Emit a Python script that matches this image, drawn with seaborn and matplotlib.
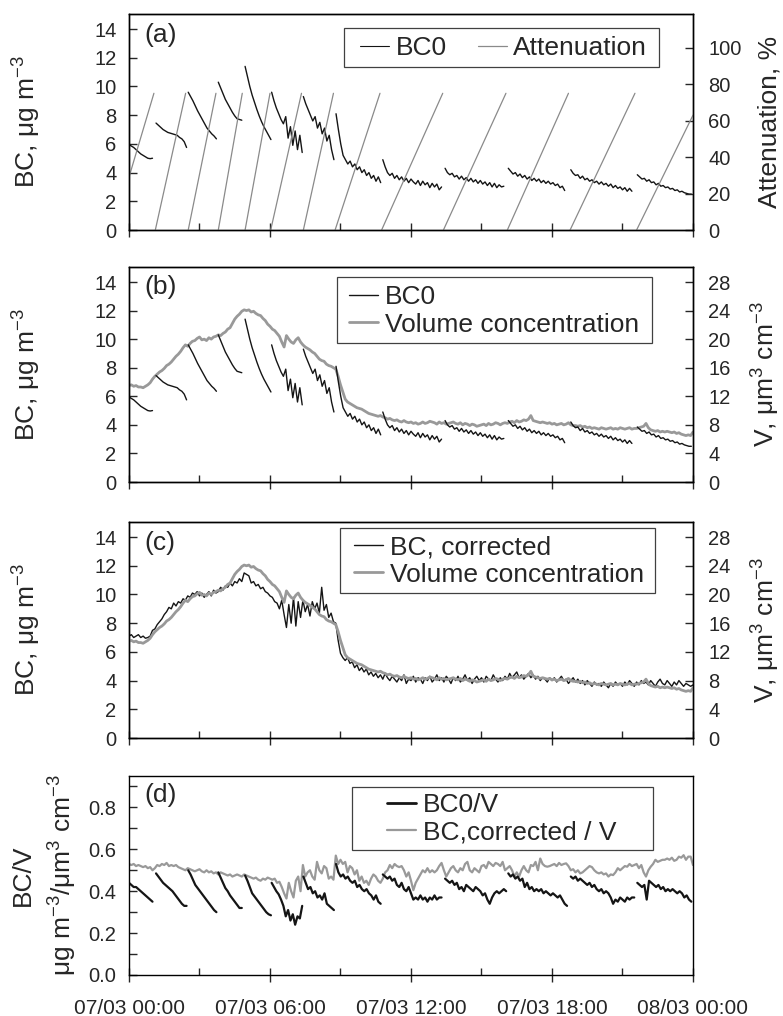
import numpy as np
import pandas as pd
import matplotlib
matplotlib.use("Agg")
import matplotlib.pyplot as plt
import seaborn as sns
from matplotlib.lines import Line2D
from matplotlib.patches import Rectangle
from matplotlib.ticker import MultipleLocator

# ---------------- data (hours after 07/03 00:00) ----------------
STEP = 0.1  # 6 min

# filter spots: start time of each BC0 segment
seg_start = [0.0, 1.15, 2.52, 3.80, 4.94, 6.07, 7.42, 8.81, 10.80, 13.45, 16.14, 18.80, 21.63]

bc0_segs = [
    [5.95, 5.85, 5.75, 5.6, 5.45, 5.3, 5.2, 5.1, 5.0, 4.97, 5.0],
    [7.45, 7.3, 7.15, 7.0, 6.9, 6.8, 6.75, 6.7, 6.65, 6.6, 6.45, 6.35, 6.15, 5.75],
    [9.6, 9.3, 9.0, 8.65, 8.3, 8.0, 7.7, 7.4, 7.1, 6.9, 6.7, 6.55, 6.35],
    [10.3, 9.9, 9.5, 9.1, 8.8, 8.5, 8.2, 7.95, 7.75, 7.7, 7.65],
    [11.4, 10.7, 10.0, 9.4, 8.9, 8.4, 7.95, 7.55, 7.2, 6.9, 6.6, 6.3],
    [9.6, 9.0, 8.5, 8.1, 7.7, 7.4, 7.9, 6.4, 7.2, 5.9, 6.9, 5.6, 6.6, 5.4],
    [9.3, 8.8, 8.4, 8.0, 7.6, 7.9, 7.1, 7.5, 6.7, 7.1, 6.2, 6.6, 5.6, 4.9],
    [8.1, 7.0, 6.0, 5.2, 4.9, 4.6, 4.8, 4.4, 4.6, 4.2, 4.4, 4.0, 4.2, 3.8, 4.0, 3.6, 3.8, 3.4, 3.7, 3.3],
    [4.9, 4.4, 4.0, 3.8, 3.95, 3.6, 3.8, 3.5, 3.7, 3.4, 3.6, 3.3, 3.55, 3.35, 3.2, 3.45, 3.1, 3.4,
     3.15, 3.3, 2.95, 3.25, 3.0, 3.2, 2.8, 3.0],
    [4.3, 4.0, 3.85, 3.95, 3.7, 3.8, 3.55, 3.75, 3.5, 3.65, 3.4, 3.6, 3.35, 3.5, 3.25, 3.45, 3.2, 3.35,
     3.1, 3.3, 3.0, 3.25, 2.95, 3.15, 3.0, 3.05],
    [4.3, 4.1, 3.9, 4.0, 3.75, 3.9, 3.65, 3.8, 3.55, 3.7, 3.45, 3.6, 3.4, 3.55, 3.3, 3.45, 3.25, 3.4,
     3.2, 3.3, 3.1, 3.2, 2.95, 3.05, 2.75],
    [4.2, 3.95, 3.8, 3.85, 3.6, 3.75, 3.5, 3.6, 3.4, 3.5, 3.3, 3.4, 3.2, 3.35, 3.15, 3.25, 3.05, 3.2,
     2.95, 3.1, 2.9, 3.0, 2.8, 2.95, 2.7, 2.9, 2.7],
    [3.85, 3.7, 3.55, 3.6, 3.4, 3.5, 3.3, 3.35, 3.15, 3.25, 3.05, 3.1, 2.95, 3.0, 2.85, 2.9, 2.75, 2.8,
     2.65, 2.7, 2.6, 2.55, 2.5, 2.5],
]

# attenuation ramps (start / end time, start / end %)
att_t0 = [0.0, 1.12, 2.52, 3.80, 4.94, 6.03, 7.42, 8.77, 10.75, 13.38, 16.10, 18.77, 21.60]
att_t1 = [1.06, 2.41, 3.70, 4.82, 6.00, 7.34, 8.70, 10.68, 13.35, 16.04, 18.70, 21.53, 24.0]
att_lo = [29, 0, 0, 0, 0, 0, 0, 0, 0, 0, 0, 0, 0]
att_hi = [75, 75, 75, 75, 75, 75, 75, 75, 75, 75, 75, 75, 63]

# volume concentration, um3 cm-3, every 0.1 h from 0 to 24 h
vol = [
    13.5, 13.6, 13.4, 13.5, 13.3, 13.3, 13.2, 13.4, 13.6, 13.9,
    14.4, 14.8, 15.1, 15.4, 15.6, 15.9, 16.3, 16.5, 16.8, 17.2,
    17.6, 17.9, 18.3, 18.8, 19.2, 19.0, 19.4, 19.7, 19.8, 20.1,
    20.3, 19.9, 20.0, 19.8, 20.2, 20.0, 20.3, 20.4, 20.6, 20.5,
    20.8, 21.0, 21.4, 21.6, 22.2, 22.8, 23.2, 23.5, 23.9, 24.1,
    24.0, 24.1, 23.8, 23.9, 23.6, 23.4, 23.3, 22.9, 22.6, 22.1,
    21.8, 21.4, 21.2, 20.8, 20.4, 19.6, 18.9, 20.5, 20.0, 19.6,
    19.4, 19.9, 20.2, 19.6, 19.2, 18.9, 18.7, 18.5, 18.2, 18.0,
    17.6, 17.2, 17.0, 16.9, 16.5, 16.3, 16.2, 16.0, 15.8, 14.8,
    13.6, 12.6, 11.6, 11.2, 11.0, 10.8, 10.6, 10.4, 10.3, 10.2,
    10.0, 9.8, 9.6, 9.5, 9.4, 9.3, 9.2, 9.3, 9.1, 9.0,
    8.8, 8.9, 8.7, 8.6, 8.7, 8.5, 8.4, 8.6, 8.4, 8.3,
    8.4, 8.2, 8.3, 8.1, 8.2, 8.4, 8.2, 8.3, 8.5, 8.4,
    8.3, 8.1, 8.4, 8.2, 8.3, 8.1, 8.2, 8.3, 8.4, 8.2,
    8.1, 8.3, 8.0, 8.2, 8.1, 7.9, 8.1, 8.0, 7.8, 7.9,
    8.0, 8.1, 7.9, 8.2, 8.0, 8.1, 8.3, 8.2, 8.0, 8.2,
    8.3, 8.2, 8.4, 8.5, 8.3, 8.6, 8.4, 8.5, 8.7, 8.6,
    8.8, 9.3, 8.6, 8.5, 8.4, 8.3, 8.4, 8.3, 8.2, 8.3,
    8.1, 8.2, 8.0, 8.1, 8.2, 8.0, 8.1, 8.3, 8.0, 7.9,
    7.9, 7.8, 7.9, 7.7, 7.8, 7.6, 7.7, 7.5, 7.6, 7.5,
    7.4, 7.6, 7.5, 7.4, 7.5, 7.6, 7.4, 7.5, 7.4, 7.6,
    7.5, 7.4, 7.5, 7.6, 7.4, 7.5, 7.5, 7.6, 7.7, 7.8,
    8.2, 7.6, 7.3, 7.2, 7.1, 7.2, 7.0, 7.1, 7.0, 7.1,
    7.0, 6.9, 7.0, 6.8, 6.9, 6.7, 6.6, 6.5, 6.6, 6.5,
    7.0,
]

# corrected BC, ug m-3, every 0.1 h
bc_corr = [
    7.1, 7.2, 7.0, 7.1, 7.2, 7.0, 7.1, 6.95, 7.0, 7.1,
    7.5, 7.6, 7.9, 8.1, 8.3, 8.6, 8.8, 9.1, 9.0, 9.4,
    9.2, 9.5, 9.4, 9.7, 9.6, 9.9, 9.8, 10.1, 10.0, 10.2,
    9.9, 10.1, 9.8, 10.0, 10.2, 9.9, 10.3, 10.1, 10.2, 10.5,
    10.3, 10.6, 10.5, 10.8, 10.6, 10.9, 10.8, 11.1, 10.9, 11.5,
    11.4, 11.3, 10.8, 10.9, 10.6, 10.7, 10.4, 10.5, 10.2, 10.1,
    9.9, 9.8, 9.5, 9.4, 9.0, 9.6, 8.6, 7.7, 9.3, 8.0,
    9.8, 7.8, 9.5, 8.4, 9.6, 8.8, 9.3, 8.5, 9.5, 9.0,
    9.4, 8.7, 10.5, 8.9, 9.3, 8.4, 8.7, 8.1, 8.0, 6.8,
    5.9, 5.6, 5.4, 5.6, 5.2, 5.3, 4.9, 5.1, 4.7, 4.9,
    4.6, 4.8, 4.4, 4.6, 4.3, 4.5, 4.2, 4.4, 4.1, 4.5,
    4.2, 4.0, 4.3, 4.1, 3.9, 4.2, 4.0, 4.4, 3.8, 4.1,
    4.0, 4.3, 3.9, 4.2, 4.1, 3.8, 4.2, 4.0, 4.3, 3.9,
    4.1, 4.4, 4.0, 4.2, 3.9, 4.3, 4.1, 3.8, 4.2, 4.0,
    4.3, 3.9, 4.1, 4.4, 4.0, 4.2, 3.8, 4.1, 4.3, 4.0,
    4.2, 3.9, 4.3, 4.1, 4.0, 4.4, 4.1, 3.9, 4.2, 4.0,
    4.3, 4.1, 4.5, 4.2, 4.4, 4.6, 4.2, 4.4, 4.1, 4.3,
    4.5, 4.2, 4.4, 4.1, 4.3, 4.0, 4.2, 4.1, 3.9, 4.2,
    4.0, 4.2, 3.9, 4.1, 4.3, 4.0, 4.1, 3.8, 4.0, 4.2,
    3.9, 4.1, 3.8, 4.0, 3.7, 4.0, 3.8, 3.6, 3.9, 3.7,
    3.8, 3.6, 3.9, 3.7, 3.5, 3.8, 3.6, 3.9, 3.7, 3.8,
    3.6, 3.9, 3.7, 4.0, 3.8, 3.6, 3.9, 3.7, 4.0, 3.8,
    3.9, 3.7, 4.0, 3.8, 3.6, 3.9, 4.1, 3.8, 3.7, 4.0,
    3.8, 3.6, 3.9, 3.7, 4.0, 3.8, 3.6, 3.8, 3.7, 3.6,
    3.7,
]

# BC0 / V per filter spot
ratio0_segs = [
    [0.44, 0.43, 0.42, 0.42, 0.41, 0.40, 0.39, 0.38, 0.37, 0.36, 0.35],
    [0.485, 0.47, 0.455, 0.44, 0.43, 0.42, 0.41, 0.40, 0.385, 0.37, 0.355, 0.34, 0.33, 0.33],
    [0.50, 0.48, 0.455, 0.43, 0.415, 0.40, 0.385, 0.37, 0.355, 0.34, 0.325, 0.31, 0.30],
    [0.49, 0.465, 0.44, 0.415, 0.40, 0.38, 0.365, 0.35, 0.335, 0.32, 0.32],
    [0.475, 0.45, 0.42, 0.39, 0.375, 0.36, 0.345, 0.33, 0.315, 0.30, 0.29, 0.285],
    [0.44, 0.42, 0.40, 0.385, 0.36, 0.33, 0.28, 0.31, 0.26, 0.29, 0.24, 0.28, 0.27, 0.33],
    [0.47, 0.44, 0.41, 0.42, 0.39, 0.40, 0.37, 0.38, 0.36, 0.39, 0.34, 0.33, 0.32, 0.31],
    [0.53, 0.49, 0.47, 0.48, 0.46, 0.47, 0.45, 0.44, 0.45, 0.42, 0.43, 0.41, 0.40, 0.41, 0.39, 0.38,
     0.36, 0.38, 0.35, 0.34],
    [0.48, 0.47, 0.46, 0.47, 0.45, 0.46, 0.43, 0.42, 0.44, 0.41, 0.40, 0.42, 0.39, 0.36, 0.37, 0.36,
     0.38, 0.36, 0.37, 0.35, 0.37, 0.36, 0.38, 0.36, 0.37, 0.37],
    [0.46, 0.45, 0.44, 0.45, 0.43, 0.44, 0.41, 0.42, 0.40, 0.43, 0.42, 0.41, 0.40, 0.42, 0.41, 0.40,
     0.38, 0.39, 0.36, 0.34, 0.37, 0.39, 0.40, 0.39, 0.40, 0.41, 0.40],
    [0.485, 0.47, 0.48, 0.46, 0.47, 0.45, 0.46, 0.42, 0.44, 0.41, 0.42, 0.40, 0.41, 0.40, 0.41, 0.39,
     0.40, 0.39, 0.38, 0.39, 0.38, 0.37, 0.38, 0.36, 0.34, 0.33],
    [0.47, 0.46, 0.47, 0.45, 0.46, 0.45, 0.44, 0.43, 0.44, 0.42, 0.43, 0.41, 0.40, 0.41, 0.39, 0.40,
     0.39, 0.37, 0.34, 0.36, 0.35, 0.37, 0.36, 0.35, 0.37, 0.36, 0.37, 0.37],
    [0.44, 0.43, 0.42, 0.43, 0.36, 0.45, 0.44, 0.43, 0.42, 0.43, 0.41, 0.42, 0.40, 0.41, 0.40, 0.41,
     0.40, 0.39, 0.40, 0.39, 0.37, 0.38, 0.36, 0.35],
]

# corrected BC / V, every 0.1 h
ratio_corr = [
    0.53, 0.525, 0.53, 0.52, 0.525, 0.52, 0.515, 0.52, 0.51, 0.515,
    0.50, 0.51, 0.525, 0.52, 0.53, 0.525, 0.535, 0.52, 0.525, 0.52,
    0.525, 0.515, 0.51, 0.505, 0.50, 0.51, 0.505, 0.50, 0.495, 0.50,
    0.505, 0.495, 0.49, 0.50, 0.49, 0.495, 0.485, 0.49, 0.48, 0.49,
    0.485, 0.48, 0.475, 0.48, 0.47, 0.475, 0.48, 0.475, 0.47, 0.48,
    0.475, 0.47, 0.465, 0.46, 0.465, 0.455, 0.45, 0.46, 0.455, 0.465,
    0.46, 0.455, 0.46, 0.44, 0.445, 0.42, 0.39, 0.365, 0.44, 0.40,
    0.37, 0.45, 0.47, 0.40, 0.525, 0.47, 0.49, 0.50, 0.47, 0.455,
    0.54, 0.50, 0.485, 0.52, 0.51, 0.46, 0.47, 0.455, 0.57, 0.53,
    0.55, 0.53, 0.54, 0.49, 0.52, 0.51, 0.48, 0.50, 0.45, 0.47,
    0.44, 0.45, 0.43, 0.46, 0.48, 0.47, 0.45, 0.44, 0.46, 0.49,
    0.50, 0.525, 0.51, 0.53, 0.52, 0.515, 0.52, 0.50, 0.47, 0.49,
    0.45, 0.405, 0.44, 0.46, 0.48, 0.50, 0.49, 0.51, 0.49, 0.50,
    0.49, 0.50, 0.52, 0.535, 0.50, 0.47, 0.49, 0.51, 0.52, 0.50,
    0.49, 0.51, 0.50, 0.53, 0.54, 0.50, 0.49, 0.51, 0.50, 0.49,
    0.52, 0.525, 0.51, 0.54, 0.53, 0.52, 0.535, 0.53, 0.52, 0.54,
    0.50, 0.51, 0.52, 0.50, 0.47, 0.49, 0.47, 0.50, 0.52, 0.50,
    0.49, 0.525, 0.52, 0.54, 0.50, 0.556, 0.53, 0.52, 0.517, 0.52,
    0.525, 0.53, 0.52, 0.535, 0.525, 0.53, 0.533, 0.52, 0.50, 0.505,
    0.49, 0.50, 0.485, 0.49, 0.50, 0.51, 0.52, 0.515, 0.50, 0.49,
    0.485, 0.49, 0.48, 0.485, 0.47, 0.48, 0.477, 0.49, 0.51, 0.50,
    0.51, 0.52, 0.517, 0.53, 0.52, 0.525, 0.53, 0.51, 0.525, 0.49,
    0.47, 0.50, 0.517, 0.53, 0.55, 0.54, 0.545, 0.55, 0.55, 0.556,
    0.55, 0.56, 0.545, 0.55, 0.565, 0.56, 0.572, 0.55, 0.565, 0.565,
    0.525,
]

x_tick_labels = ["07/03 00:00", "07/03 06:00", "07/03 12:00", "07/03 18:00", "08/03 00:00"]


# ---------------- tidy frames ----------------
def seg_frame(starts, segs):
    rows = []
    for i, (t0, vals) in enumerate(zip(starts, segs)):
        for j, v in enumerate(vals):
            rows.append((t0 + STEP * j, v, i))
    return pd.DataFrame(rows, columns=["t", "v", "seg"])


grid = np.round(np.arange(len(vol)) * STEP, 2)
df_bc0 = seg_frame(seg_start, bc0_segs)
df_r0 = seg_frame(seg_start, ratio0_segs)
df_vol = pd.DataFrame({"t": grid, "v": vol})
df_corr = pd.DataFrame({"t": grid, "v": bc_corr})
df_rc = pd.DataFrame({"t": grid, "v": ratio_corr})
df_att = pd.DataFrame({
    "t": att_t0 + att_t1,
    "v": att_lo + att_hi,
    "seg": list(range(len(att_t0))) * 2,
})

# ---------------- style ----------------
sns.set_style("ticks")
plt.rcParams["font.family"] = ["Liberation Sans", "DejaVu Sans"]
plt.rcParams["mathtext.fontset"] = "custom"
plt.rcParams["mathtext.rm"] = "Liberation Sans"
plt.rcParams["mathtext.default"] = "regular"
plt.rcParams["axes.linewidth"] = 1.0
plt.rcParams["axes.edgecolor"] = "black"

BLACK = "#151515"
GREY = "#999999"
ATT_GREY = "#8a8a8a"
TICK_FS = 14.5
LAB_FS = 19
LEG_FS = 19

fig = plt.figure(figsize=(7.83, 10.16), dpi=100)
W, H = 783.0, 1016.0
left, right = 129, 693
boxes = [(14, 230), (267, 482), (522, 738), (776, 975)]
axes = [fig.add_axes([left / W, 1 - b / H, (right - left) / W, (b - t) / H]) for t, b in boxes]


def style_x(ax, labels=False):
    ax.set_xlim(0, 24)
    ax.set_xticks([0, 6, 12, 18, 24])
    ax.xaxis.set_minor_locator(MultipleLocator(3))
    ax.tick_params(axis="x", which="major", direction="inout", length=10, width=1, top=False)
    ax.tick_params(axis="x", which="minor", direction="in", length=5, width=1, top=False)
    if labels:
        ax.set_xticklabels(x_tick_labels, fontsize=15)
        ax.tick_params(axis="x", which="major", pad=12)
    else:
        ax.set_xticklabels([])
    ax.set_xlabel("")


def style_left(ax):
    ax.tick_params(axis="y", which="both", direction="in", length=6, width=1,
                   labelsize=TICK_FS, pad=9, right=False)
    ax.set_ylabel("")


def style_right(ax2):
    ax2.tick_params(axis="y", which="both", direction="in", length=6, width=1,
                    labelsize=TICK_FS, pad=11)
    ax2.set_ylabel("")


def legend_box(frame, handle_x, y_mid, handles, labels, ncol=1, colspace=1.17):
    # frame: (x0, y0, x1, y1) in pixels from the top-left of the figure
    x0, y0, x1, y1 = frame
    fig.add_artist(Rectangle((x0 / W, 1 - y1 / H), (x1 - x0) / W, (y1 - y0) / H,
                             transform=fig.transFigure, facecolor="white",
                             edgecolor="#404040", lw=0.9, zorder=4))
    lg = fig.legend(handles, labels, loc="center left", bbox_to_anchor=(handle_x / W, 1 - y_mid / H),
                    bbox_transform=fig.transFigure, ncol=ncol, fontsize=LEG_FS, frameon=False,
                    handlelength=1.1, handletextpad=0.25, borderpad=0.0, labelspacing=0.12,
                    columnspacing=colspace, borderaxespad=0)
    lg.set_zorder(5)
    return lg


def panel_tag(ax, s):
    ax.text(0.028, 0.905, s, transform=ax.transAxes, fontsize=LEG_FS, ha="left", va="center")


def ylab(ax, s, xpix, spacing=1.2):
    pos = ax.get_position()
    fig.text(xpix / W, pos.y0 + pos.height / 2, s, rotation=90, ha="center", va="center",
             fontsize=LAB_FS, multialignment="center", linespacing=spacing)


# ---- (a) ----
ax = axes[0]
ax2 = ax.twinx()
sns.lineplot(data=df_att, x="t", y="v", units="seg", estimator=None, color=ATT_GREY,
             lw=0.9, ax=ax2, legend=False)
sns.lineplot(data=df_bc0, x="t", y="v", units="seg", estimator=None, color=BLACK,
             lw=1.0, ax=ax, legend=False)
ax.set_ylim(0, 15.05)
ax.set_yticks(range(0, 15, 2))
ax2.set_ylim(0, 118.5)
ax2.set_yticks(range(0, 101, 20))
style_x(ax); style_x(ax2); style_left(ax); style_right(ax2)
panel_tag(ax, "(a)")
legend_box((344, 28, 659, 67), 360, 48,
           [Line2D([], [], color=BLACK, lw=0.8), Line2D([], [], color=ATT_GREY, lw=0.9)],
           ["BC0", "Attenuation"], ncol=2)
ylab(ax, "BC, μg m$^{-3}$", 27)
ylab(ax2, "Attenuation, %", 769)

# ---- (b) ----
ax = axes[1]
ax2 = ax.twinx()
sns.lineplot(data=df_vol, x="t", y="v", estimator=None, color=GREY, lw=2.0, ax=ax2, legend=False)
sns.lineplot(data=df_bc0, x="t", y="v", units="seg", estimator=None, color=BLACK,
             lw=1.0, ax=ax, legend=False)
ax.set_zorder(ax2.get_zorder() + 1)
ax.patch.set_visible(False)
ax.set_ylim(0, 15.05)
ax.set_yticks(range(0, 15, 2))
ax2.set_ylim(0, 30.1)
ax2.set_yticks(range(0, 29, 4))
style_x(ax); style_x(ax2); style_left(ax); style_right(ax2)
panel_tag(ax, "(b)")
legend_box((337, 277, 652, 343), 349, 311,
           [Line2D([], [], color=BLACK, lw=1.0), Line2D([], [], color=GREY, lw=2.0)],
           ["BC0", "Volume concentration"])
ylab(ax, "BC, μg m$^{-3}$", 27)
ylab(ax2, "V, μm$^{3}$ cm$^{-3}$", 766)

# ---- (c) ----
ax = axes[2]
ax2 = ax.twinx()
sns.lineplot(data=df_corr, x="t", y="v", estimator=None, color=BLACK, lw=1.0, ax=ax, legend=False)
sns.lineplot(data=df_vol, x="t", y="v", estimator=None, color=GREY, lw=2.0, ax=ax2, legend=False)
ax.set_ylim(0, 15.05)
ax.set_yticks(range(0, 15, 2))
ax2.set_ylim(0, 30.1)
ax2.set_yticks(range(0, 29, 4))
style_x(ax); style_x(ax2); style_left(ax); style_right(ax2)
panel_tag(ax, "(c)")
legend_box((340, 528, 655, 593), 354, 561,
           [Line2D([], [], color=BLACK, lw=1.0), Line2D([], [], color=GREY, lw=2.0)],
           ["BC, corrected", "Volume concentration"])
ylab(ax, "BC, μg m$^{-3}$", 27)
ylab(ax2, "V, μm$^{3}$ cm$^{-3}$", 766)

# ---- (d) ----
ax = axes[3]
sns.lineplot(data=df_rc, x="t", y="v", estimator=None, color=GREY, lw=1.6, ax=ax, legend=False)
sns.lineplot(data=df_r0, x="t", y="v", units="seg", estimator=None, color=BLACK,
             lw=1.6, ax=ax, legend=False)
ax.set_ylim(0, 0.95)
ax.set_yticks([0.0, 0.2, 0.4, 0.6, 0.8])
ax.set_yticklabels(["0.0", "0.2", "0.4", "0.6", "0.8"])
ax.yaxis.set_minor_locator(MultipleLocator(0.1))
style_x(ax, labels=True); style_left(ax)
panel_tag(ax, "(d)")
legend_box((352, 787, 653, 850), 387, 819,
           [Line2D([], [], color=BLACK, lw=2.0), Line2D([], [], color=GREY, lw=1.6)],
           ["BC0/V", "BC,corrected / V"])
ylab(ax, "BC/V\nμg m$^{-3}$/μm$^{3}$ cm$^{-3}$", 45, spacing=1.45)

fig.savefig("out.png", dpi=100)
